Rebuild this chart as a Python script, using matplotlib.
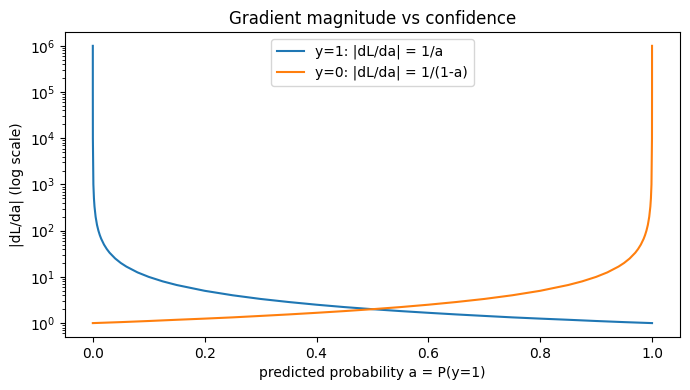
import matplotlib
matplotlib.use("Agg")
import matplotlib.pyplot as plt

# points: predicted probability and |dL/da| for y=1
a_vals = [0.000001, 0.00001, 0.0001, 0.001, 0.002, 0.003, 0.005, 0.0075, 0.01,
          0.0125, 0.015, 0.02, 0.025, 0.03, 0.04, 0.05, 0.06, 0.08, 0.1, 0.125,
          0.15, 0.2, 0.25, 0.3, 0.35, 0.4, 0.45, 0.5, 0.55, 0.6, 0.65, 0.7,
          0.75, 0.8, 0.85, 0.9, 0.95, 0.999999]
grad_y1 = [1000000, 100000, 10000, 1000, 500, 333, 200, 133, 100,
           80, 66.7, 50, 40, 33.3, 25, 20, 16.7, 12.5, 10, 8,
           6.67, 5, 4, 3.33, 2.86, 2.5, 2.22, 2, 1.82, 1.67, 1.54, 1.43,
           1.33, 1.25, 1.18, 1.11, 1.05, 1.0]

# y=0 curve is the mirror image: read at 1-a
a_vals0 = [1 - a for a in a_vals]
grad_y0 = grad_y1

fig, ax = plt.subplots(figsize=(6.9, 3.9), dpi=100)
ax.plot(a_vals, grad_y1, label="y=1: |dL/da| = 1/a")
ax.plot(a_vals0, grad_y0, label="y=0: |dL/da| = 1/(1-a)")
ax.set_yscale("log")
ax.set_title("Gradient magnitude vs confidence")
ax.set_xlabel("predicted probability a = P(y=1)")
ax.set_ylabel("|dL/da| (log scale)")
ax.legend(loc="upper center")
fig.subplots_adjust(left=0.094, right=0.9855, top=0.918, bottom=0.136)
fig.savefig("out.png")
